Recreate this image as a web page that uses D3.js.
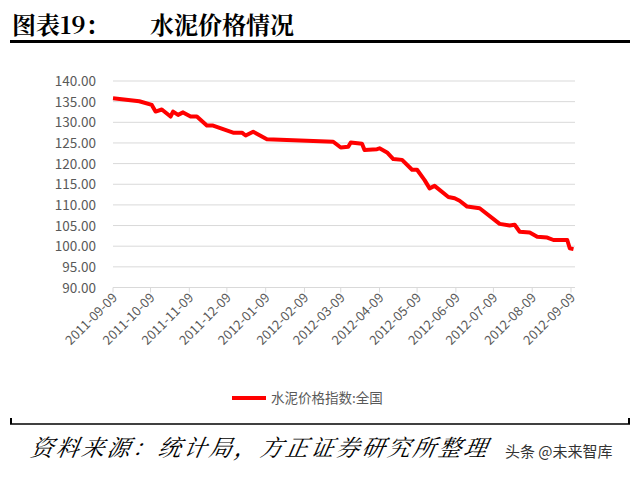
<!DOCTYPE html><html><head><meta charset="utf-8"><script src="https://cdn.jsdelivr.net/npm/d3@7"></script>
<style>body{margin:0;background:#fff}</style></head><body><svg id="c" width="640" height="480"></svg><script>
const dates=["2011-09-09","2011-09-30","2011-10-10","2011-10-13","2011-10-18","2011-10-25","2011-10-27","2011-10-31","2011-11-04","2011-11-10","2011-11-15","2011-11-23","2011-11-28","2011-12-14","2011-12-21","2011-12-24","2011-12-30","2012-01-10","2012-03-03","2012-03-09","2012-03-15","2012-03-17","2012-03-26","2012-03-28","2012-04-07","2012-04-09","2012-04-15","2012-04-20","2012-04-27","2012-05-05","2012-05-09","2012-05-15","2012-05-19","2012-05-23","2012-06-03","2012-06-08","2012-06-12","2012-06-18","2012-06-28","2012-07-14","2012-07-22","2012-07-26","2012-07-30","2012-08-07","2012-08-13","2012-08-21","2012-08-26","2012-09-06","2012-09-08","2012-09-11"];
const values=[135.8,135.1,134.2,132.6,133.1,131.4,132.6,131.8,132.4,131.4,131.4,129.2,129.2,127.5,127.5,126.8,127.7,125.9,125.3,123.9,124.1,125.1,124.8,123.3,123.5,123.7,122.7,121.1,120.9,118.5,118.5,116.0,114.0,114.6,111.9,111.6,111.0,109.6,109.2,105.4,105.0,105.2,103.5,103.3,102.3,102.1,101.5,101.5,99.5,99.3];
const xTicks=["2011-09-09","2011-10-09","2011-11-09","2011-12-09","2012-01-09","2012-02-09","2012-03-09","2012-04-09","2012-05-09","2012-06-09","2012-07-09","2012-08-09","2012-09-09"];
const yTicks=[90,95,100,105,110,115,120,125,130,135,140];
const seriesName="水泥价格指数:全国";
const svg=d3.select("#c");
const p=d3.utcParse("%Y-%m-%d");
const x=d3.scaleUtc().domain([p("2011-09-09"),p("2012-09-09")]).range([113,571]);
const y=d3.scaleLinear().domain([90,140]).range([287.5,81]);
const font="'Noto Sans CJK SC','Noto Sans',sans-serif";
const serif="'Noto Serif CJK SC','Noto Sans CJK SC',serif";
svg.append("text").attr("x",12).attr("y",34).attr("font-family",serif).attr("font-size",24).attr("font-weight","bold").text("图表19：");
svg.append("text").attr("x",150).attr("y",34).attr("font-family",serif).attr("font-size",24).attr("font-weight","bold").text("水泥价格情况");
svg.append("rect").attr("x",10).attr("y",40).attr("width",620).attr("height",3).attr("fill","#000");
svg.append("g").selectAll("line").data(yTicks).join("line").attr("x1",113).attr("x2",575).attr("y1",d=>y(d)).attr("y2",d=>y(d)).attr("stroke","#d9d9d9").attr("stroke-width",1);
svg.append("g").selectAll("text").data(yTicks).join("text").attr("x",96).attr("y",d=>y(d)+5).attr("text-anchor","end").attr("font-family",font).attr("font-size",13.5).attr("fill","#595959").text(d=>d.toFixed(2));
const g=svg.append("g").selectAll("g").data(xTicks).join("g").attr("transform",d=>`translate(${x(p(d))},${y(90)})`);
g.append("line").attr("y2",5).attr("stroke","#d9d9d9");
g.append("text").attr("transform","translate(5,11) rotate(-45)").attr("text-anchor","end").attr("font-family",font).attr("font-size",13).attr("fill","#595959").text(d=>d);
const data=dates.map((d,i)=>[p(d),values[i]]);
svg.append("path").datum(data).attr("d",d3.line().x(d=>x(d[0])).y(d=>y(d[1]))).attr("fill","none").attr("stroke","#ff0000").attr("stroke-width",4).attr("stroke-linejoin","round");
svg.append("line").attr("x1",232).attr("x2",266).attr("y1",398).attr("y2",398).attr("stroke","#ff0000").attr("stroke-width",4);
svg.append("text").attr("x",271).attr("y",403).attr("font-family",font).attr("font-size",13.5).attr("fill","#595959").text(seriesName);
svg.append("line").attr("x1",10).attr("x2",630).attr("y1",424).attr("y2",424).attr("stroke","#000").attr("stroke-width",1.5);
svg.append("line").attr("x1",11).attr("x2",11).attr("y1",418).attr("y2",424).attr("stroke","#000").attr("stroke-width",2);
svg.append("line").attr("x1",629).attr("x2",629).attr("y1",418).attr("y2",424).attr("stroke","#000").attr("stroke-width",2);
svg.append("text").attr("x",110).attr("y",456).attr("font-family",serif).attr("font-size",23).attr("letter-spacing",2.5).attr("font-style","italic").attr("transform","skewX(-10)").text("资料来源：统计局，方正证券研究所整理");
svg.append("text").attr("x",505).attr("y",457).attr("font-family",font).attr("font-size",15).attr("fill","#333").text("头条 @未来智库");
</script></body></html>
